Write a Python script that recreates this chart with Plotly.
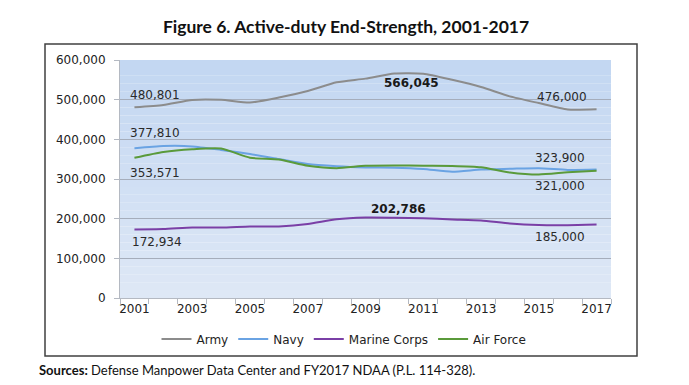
import plotly.graph_objects as go

years = list(range(2001, 2018))
army = [480801, 486542, 499301, 499543, 492728, 505402, 522017, 543645, 553044,
        566045, 565463, 550064, 532043, 508210, 491365, 475400, 476000]
navy = [377810, 383108, 382235, 373197, 362941, 350197, 337547, 332228, 329304,
        328303, 325123, 318406, 323951, 325694, 327314, 322900, 323900]
marines = [172934, 173733, 177779, 177480, 180029, 180416, 186492, 198505, 202786,
           202441, 201157, 198193, 195657, 187891, 184000, 183600, 185000]
air_force = [353571, 368251, 375062, 376616, 353696, 348953, 333495, 327379, 333408,
             334196, 333370, 332959, 329640, 316486, 311357, 317000, 321000]
series_names = ["Army", "Navy", "Marine Corps", "Air Force"]
tick_years = [2001, 2003, 2005, 2007, 2009, 2011, 2013, 2015, 2017]

colors = ["#8c8c8c", "#6aa3e3", "#7a3fa6", "#5a9a3a"]
font_family = "DejaVu Sans"

fig = go.Figure()
for name, vals, col in zip(series_names, [army, navy, marines, air_force], colors):
    fig.add_trace(go.Scatter(x=years, y=vals, name=name, mode="lines",
                             line=dict(color=col, width=2, shape="spline", smoothing=0.6)))

# Plot area gradient background (styling)
top = (195, 215, 242)
bot = (222, 232, 246)
n = 30
for i in range(n):
    t = i / (n - 1)
    c = tuple(int(bot[k] + (top[k] - bot[k]) * t) for k in range(3))
    fig.add_shape(type="rect", xref="paper", yref="paper", x0=0, x1=1,
                  y0=i / n, y1=(i + 1) / n, fillcolor="rgb(%d,%d,%d)" % c,
                  line=dict(width=0), layer="below")

# Outer chart box
L, R, T, B = 120, 611, 60, 298
W, H = 689, 385
def px(xp): return (xp - L) / (R - L)
def py(yp): return (B - yp) / (B - T)
fig.add_shape(type="rect", xref="paper", yref="paper", x0=px(45), x1=px(637),
              y0=py(356), y1=py(44), line=dict(color="#404040", width=1.5),
              fillcolor="rgba(0,0,0,0)")

lab_font = dict(family=font_family, size=12, color="#2a2a2a")
bold_font = dict(family=font_family, size=12, color="#1a1a1a", weight="bold")
def ann(x, y, text, xanchor, yshift, xshift=0, font=lab_font):
    fig.add_annotation(x=x, y=y, text=text, showarrow=False, xanchor=xanchor,
                       yanchor="middle", xshift=xshift, yshift=yshift, font=font)

ann(years[0], army[0], f"{army[0]:,}", "left", 12, -6)
ann(years[0], navy[0], f"{navy[0]:,}", "left", 15, -6)
ann(years[0], air_force[0], f"{air_force[0]:,}", "left", -15, -6)
ann(years[0], marines[0], f"{marines[0]:,}", "left", -13, -4)
ann(years[9] + 0.6, army[9], f"{army[9]:,}", "center", -10, 0, bold_font)
ann(years[8] + 1.15, marines[8], f"{marines[8]:,}", "center", 9, 0, bold_font)
ann(years[-1], army[-1], f"{army[-1]:,}", "right", 12, -8)
ann(years[-1], navy[-1], f"{navy[-1]:,}", "right", 12, -10)
ann(years[-1], air_force[-1], f"{air_force[-1]:,}", "right", -15, -10)
ann(years[-1], marines[-1], f"{marines[-1]:,}", "right", -12, -10)

fig.add_annotation(xref="paper", yref="paper", x=px(37), y=py(370), xanchor="left",
                   yanchor="middle", showarrow=False,
                   text="<b>Sources:</b> Defense Manpower Data Center and FY2017 NDAA (P.L. 114-328).",
                   font=dict(family="Liberation Sans Narrow, Lato", size=13, color="#111"))

fig.update_layout(
    width=W, height=H,
    margin=dict(l=L, r=W - R, t=T, b=H - B),
    paper_bgcolor="white", plot_bgcolor="rgba(0,0,0,0)",
    title=dict(text="<b>Figure 6. Active-duty End-Strength, 2001-2017</b>",
               x=346 / W, xanchor="center", y=1 - 27 / H, yanchor="middle",
               font=dict(family="Lato", size=17.5, color="#111")),
    legend=dict(orientation="h", x=px(344), xanchor="center", y=py(339), yanchor="middle",
                font=dict(family=font_family, size=12, color="#222"),
                bgcolor="rgba(0,0,0,0)", itemwidth=30, tracegroupgap=0),
    showlegend=True,
)
fig.update_xaxes(range=[2000.5, 2017.5], tickvals=tick_years, ticktext=[str(y) for y in tick_years],
                 ticks="", showgrid=False, showline=True, linecolor="#b4b9c2", linewidth=1,
                 tickfont=dict(family=font_family, size=12, color="#222"),
                 minor=dict(tick0=2000.5, dtick=1, ticks="outside", ticklen=5,
                            tickcolor="#b4b9c2", showgrid=False),
                 zeroline=False, fixedrange=True)
fig.update_yaxes(range=[0, 600000], dtick=100000, tickformat=",", ticks="outside", ticklen=5,
                 tickcolor="#b4b9c2", showgrid=True, gridcolor="#a5adbb", gridwidth=1,
                 showline=True, linecolor="#b4b9c2", linewidth=1, zeroline=False,
                 ticklabelstandoff=6,
                 tickfont=dict(family=font_family, size=12, color="#222"), fixedrange=True)

fig.write_html("out.html", post_script="document.body.style.margin='0';",
               config={"displayModeBar": False})
